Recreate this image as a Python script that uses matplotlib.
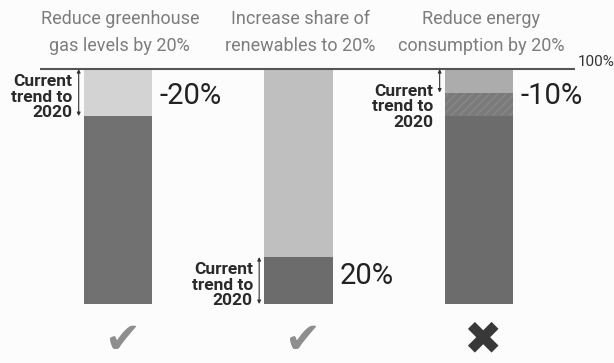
import matplotlib.pyplot as plt
import numpy as np
from matplotlib import font_manager

# EU 2020 targets vs. the trend at the time
targets = ["Reduce greenhouse\ngas levels by 20%",
           "Increase share of\nrenewables to 20%",
           "Reduce energy\nconsumption by 20%"]
base_share = [80, 20, 80]       # dark lower block (%)
gap_share = [0, 0, 10]          # hatched block still missing
top_share = [20, 80, 10]        # light upper block
trend_low = [80, 0, 90]         # span reached by the current trend to 2020
trend_high = [100, 20, 100]
trend_text = ["-20%", "20%", "-10%"]
on_track = [True, True, False]


def pick_font(names):
    for name in names:
        try:
            font_manager.findfont(font_manager.FontProperties(family=name),
                                  fallback_to_default=False)
            return name
        except ValueError:
            pass
    return "DejaVu Sans"


narrow = pick_font(["Liberation Sans Narrow", "Roboto", "DejaVu Sans"])
plt.rcParams["font.family"] = [narrow, "DejaVu Sans"]

fig = plt.figure(figsize=(6.14, 3.63), dpi=100, facecolor="#fcfcfc")
ax = fig.add_axes([0, 0, 1, 1])
ax.set_facecolor("#fcfcfc")
ax.set_xlim(-0.654, 2.748)
ax.set_ylim(-25.1, 129.4)
ax.axis("off")

x = np.arange(len(targets))
width = 0.38
light_colors = ["#d3d3d3", "#bfbfbf", "#acacac"]
dark_colors = ["#717171", "#6c6c6c", "#6c6c6c"]

base = np.array(base_share)
gap = np.array(gap_share)
top = np.array(top_share)

ax.bar(x, base, width, color=dark_colors, linewidth=0)
ax.bar(x, gap, width, bottom=base, color="#7a7a7a", edgecolor="#888888",
       hatch="////", linewidth=0)
ax.bar(x, top, width, bottom=base + gap, color=light_colors, linewidth=0)

# 100% reference line
ax.plot([-0.43, 2.53], [100, 100], color="#555555", lw=1.5,
        solid_capstyle="butt")
ax.text(2.545, 100.0, "100%", fontsize=11, color="#333333",
        ha="left", va="bottom")

for i in range(len(targets)):
    ax.text(x[i] + 0.01, 115.6, targets[i], ha="center", va="center",
            fontsize=13, color="#7d7d7d", linespacing=1.6)

    # current trend arrow + label left of the bar
    ax_x = x[i] - width / 2 - 0.028
    ax.annotate("", xy=(ax_x, trend_low[i]), xytext=(ax_x, trend_high[i]),
                arrowprops=dict(arrowstyle="<|-|>", color="#333333", lw=0.8,
                                mutation_scale=5, shrinkA=0, shrinkB=0))
    mid = (trend_low[i] + trend_high[i]) / 2
    if trend_high[i] - trend_low[i] < 15:
        mid = trend_high[i] - 14
    ax.text(ax_x - 0.035, mid - 2, "Current\ntrend to\n2020", ha="right",
            va="center", fontsize=12.5, fontweight="bold", color="#2a2a2a",
            linespacing=1.05)

    # value of the trend, right of the bar
    lo = min(base_share[i], trend_low[i])
    dy = 2 if trend_low[i] == 0 else -1.5
    ax.text(x[i] + width / 2 + 0.04, (lo + trend_high[i]) / 2 + dy,
            trend_text[i], ha="left", va="center", fontsize=21,
            color="#222222")

    if on_track[i]:
        ax.text(x[i] + 0.02, -15.8, "\u2714", ha="center", va="center",
                fontsize=31, color="#8e8e8e", family="DejaVu Sans")
    else:
        ax.text(x[i] + 0.02, -15.8, "\u2716", ha="center", va="center",
                fontsize=33, color="#383838", family="DejaVu Sans")

plt.savefig("out.png", dpi=100, facecolor=fig.get_facecolor())
